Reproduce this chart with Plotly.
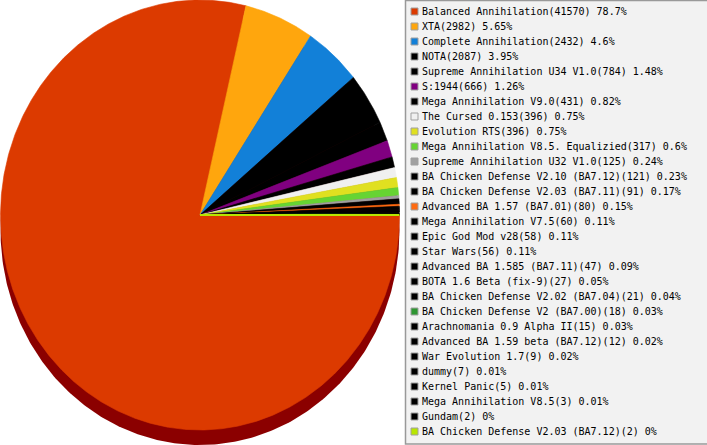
import numpy as np
import plotly.graph_objects as go

mods = ['Balanced Annihilation', 'XTA', 'Complete Annihilation', 'NOTA', 'Supreme Annihilation U34 V1.0', 'S:1944',
        'Mega Annihilation V9.0', 'The Cursed 0.153', 'Evolution RTS', 'Mega Annihilation V8.5. Equalizied',
        'Supreme Annihilation U32 V1.0', 'BA Chicken Defense V2.10 (BA7.12)', 'BA Chicken Defense V2.03 (BA7.11)',
        'Advanced BA 1.57 (BA7.01)', 'Mega Annihilation V7.5', 'Epic God Mod v28', 'Star Wars',
        'Advanced BA 1.585 (BA7.11)', 'BOTA 1.6 Beta (fix-9)', 'BA Chicken Defense V2.02 (BA7.04)',
        'BA Chicken Defense V2 (BA7.00)', 'Arachnomania 0.9 Alpha II', 'Advanced BA 1.59 beta (BA7.12)',
        'War Evolution 1.7', 'dummy', 'Kernel Panic', 'Mega Annihilation V8.5', 'Gundam',
        'BA Chicken Defense V2.03 (BA7.12)']
games = [41570, 2982, 2432, 2087, 784, 666, 431, 396, 396, 317, 125, 121, 91, 80, 60, 58, 56, 47, 27, 21, 18, 15, 12,
         9, 7, 5, 3, 2, 2]
percents = ['78.7', '5.65', '4.6', '3.95', '1.48', '1.26', '0.82', '0.75', '0.75', '0.6', '0.24', '0.23', '0.17',
            '0.15', '0.11', '0.11', '0.11', '0.09', '0.05', '0.04', '0.03', '0.03', '0.02', '0.02', '0.01', '0.01',
            '0.01', '0', '0']
colors = ['#dc3a00', '#ffa60d', '#1280d8', '#000000', '#000000', '#800080', '#000000', '#f0f0f0', '#e0e020', '#66d433',
          '#a0a0a0', '#000000', '#000000', '#ff6a10', '#000000', '#000000', '#000000', '#000000', '#000000', '#000000',
          '#2e9632', '#000000', '#000000', '#000000', '#000000', '#000000', '#000000', '#000000', '#b8e600']

CX, CY, RX, RY, DEPTH = 200, 215, 199.5, 215, 15


def wedge(start, end):
    # pie is squashed, so it is drawn on pixel axes rather than with go.Pie
    t = np.linspace(start, end, max(2, int((end - start) * 200)))
    return [CX, *(CX + RX * np.cos(t)), CX], [CY, *(CY + RY * np.sin(t)), CY]


fig = go.Figure()

t = np.linspace(0, 2 * np.pi, 500)
fig.add_trace(go.Scatter(x=CX + RX * np.cos(t), y=CY + DEPTH + RY * np.sin(t), mode='lines', fill='toself',
                         fillcolor='#8b0000', line=dict(color='#8b0000', width=0), hoverinfo='skip'))

edges = np.cumsum([0] + games) / sum(games) * 2 * np.pi
for i in range(len(games)):
    x, y = wedge(edges[i], edges[i + 1])
    # the last slice is far under a pixel wide, so it needs a heavier stroke to show up
    stroke = 2 if i == len(games) - 1 else 0.6
    fig.add_trace(go.Scatter(x=x, y=y, mode='lines', fill='toself', fillcolor=colors[i],
                             line=dict(color=colors[i], width=stroke), name=mods[i], hoverinfo='skip'))

rows = [12 + 15 * i for i in range(len(mods))]
fig.add_trace(go.Scatter(x=[414.5] * len(mods), y=[r - 0.5 for r in rows], mode='markers',
                         marker=dict(symbol='square', size=7, color=colors, line=dict(color='#a0a0a0', width=1)),
                         hoverinfo='skip'))
labels = [f'{m}({g}) {p}%' for m, g, p in zip(mods, games, percents)]
fig.add_trace(go.Scatter(x=[422] * len(mods), y=[r + 0.5 for r in rows], mode='text', text=labels,
                         textposition='middle right',
                         textfont=dict(family='DejaVu Sans Mono', size=10, color='#000000'), hoverinfo='skip'))

fig.add_shape(type='rect', x0=405.5, x1=708, y0=0.5, y1=444, fillcolor='#f2f2f2',
              line=dict(color='#999999', width=1.5), layer='below')

fig.update_layout(width=707, height=445, margin=dict(l=0, r=0, t=0, b=0), showlegend=False,
                  paper_bgcolor='#ffffff', plot_bgcolor='#ffffff',
                  xaxis=dict(range=[0, 707], visible=False, fixedrange=True),
                  yaxis=dict(range=[445, 0], visible=False, fixedrange=True))

# page margin would push the chart 8px off
fig.write_html("out.html", config={'displayModeBar': False},
               post_script="document.body.style.margin='0';document.body.style.overflow='hidden';")
